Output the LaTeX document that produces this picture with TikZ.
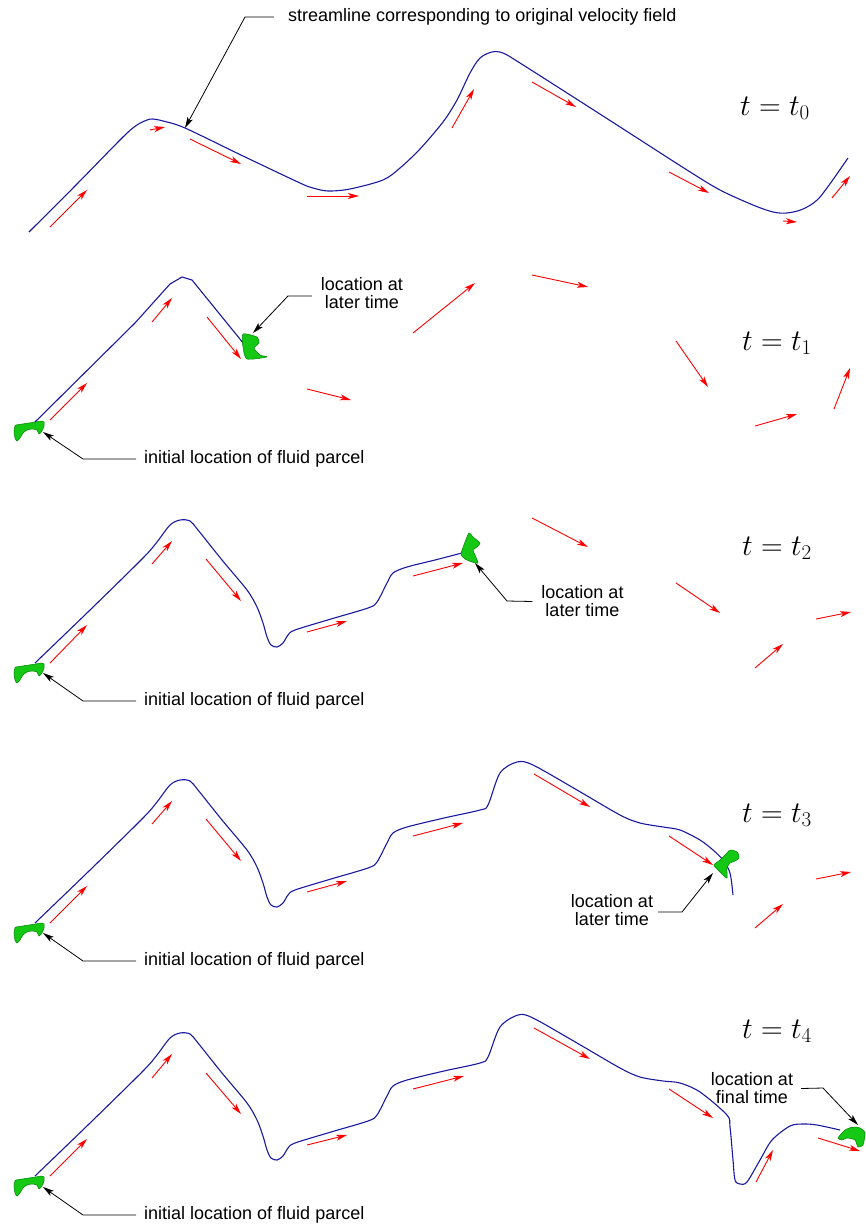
\RequirePackage{fix-cm}
\documentclass[tikz,border=0pt]{standalone}
\usepackage{fontspec}
\newfontfamily\lsans{Liberation Sans}
\usetikzlibrary{arrows.meta}
\definecolor{slblue}{RGB}{25,25,160}
\definecolor{pgreen}{RGB}{20,200,20}
\definecolor{pgreendark}{RGB}{0,130,0}
\tikzset{
  sl/.style={draw=slblue, line width=1.1pt, line join=round},
  vel/.style={draw=red, line width=0.9pt, -{Stealth[length=11pt,width=6pt,inset=3pt]}},
  lead/.style={draw=black, line width=0.8pt, -{Stealth[length=11pt,width=6pt,inset=2.5pt]}},
  parcel/.style={fill=pgreen, draw=pgreendark, line width=0.5pt},
  lbl/.style={font=\lsans\fontsize{18}{18}\selectfont, inner sep=0pt, align=center},
  tlbl/.style={font=\fontsize{30}{32}\selectfont, inner sep=0pt}
}
\begin{document}
\begin{tikzpicture}[x=1pt,y=-1pt]
\useasboundingbox (0,0) rectangle (865,1226);

% ---------------- t = t0 ----------------
\draw[sl] plot[smooth,tension=0.5] coordinates {(29,232) (76,185) (123,137) (137,125) (147,120) (153,119) (163,121) (185,128) (243,156) (300,183) (313,188) (328,191) (350,189) (383,180) (400,168) (420,149) (443,122) (457,100) (470,73) (480,58) (492,52) (503,53) (520,63) (603,116) (687,170) (720,190) (753,205) (773,212) (787,213) (803,209) (820,197) (848,158)};
\draw[vel] (50,227) -- (87,190);
\draw[vel] (150,130) -- (165,127);
\draw[vel] (190,139) -- (241,164);
\draw[vel] (307,196) -- (359,196);
\draw[vel] (452,128) -- (474,89);
\draw[vel] (532,82) -- (576,107);
\draw[vel] (669,172) -- (709,193);
\draw[vel] (783,221) -- (797,222);
\draw[vel] (832,198) -- (850,176);
\node[lbl, anchor=west] (sl0) at (288,17) {streamline corresponding to original velocity field};
\coordinate (sl0e) at (245,17);
\coordinate (sl0t) at (185,128);
\draw[lead] ([xshift=-14pt]sl0.west) -- (sl0e) -- (sl0t);
\node[tlbl, anchor=base west] (tt0) at (740,115) {$t = t_0$};

% ---------------- initial parcels ----------------
\foreach \dy in {-242,0,260,513} {
  \path[parcel, shift={(0,\dy)}] plot[smooth cycle,tension=0.4] coordinates {(16,667) (29,665) (42,663) (44,664) (44,668) (42,673) (39,676) (37,672) (32,671) (27,672) (23,675) (20,680) (17,683) (15,680) (14,673) (15,668)};
}

% ---------------- t = t1 ----------------
\draw[sl] (35,422) -- (135,323) -- (170,284) -- (182,277) -- (192,280) -- (248,349);
\path[parcel] plot[smooth cycle,tension=0.4] coordinates {(243,334) (257,337) (259,343) (254,348) (260,355) (267,357) (247,359) (243,347)};
\draw[vel] (50,420) -- (87,383);
\draw[vel] (152,322) -- (172,298);
\draw[vel] (207,317) -- (241,359);
\draw[vel] (307,389) -- (351,400);
\draw[vel] (413,333) -- (475,283);
\draw[vel] (532,275) -- (588,287);
\draw[vel] (676,341) -- (708,387);
\draw[vel] (755,426) -- (797,414);
\draw[vel] (834,409) -- (850,368);
\node[tlbl, anchor=base west] (tt1) at (742,350) {$t = t_1$};
\node[lbl] (lt1) at (362,293.5) {location at\\later time};
\coordinate (lt1e) at (288,296);
\coordinate (lt1t) at (253,333);
\draw[lead] ([xshift=-9pt,yshift=-2.5pt]lt1.west) -- (lt1e) -- (lt1t);
\node[lbl, anchor=west] (ini1) at (144,459) {initial location of fluid parcel};
\coordinate (ini1e) at (83,459);
\coordinate (ini1t) at (43,432);
\draw[lead] ([xshift=-8pt]ini1.west) -- (ini1e) -- (ini1t);

% ---------------- t = t2 ----------------
\draw[sl] plot[smooth,tension=0.5] coordinates {(35,663) (89,611) (143,558) (157,542) (170,525) (180,520) (190,521) (198,530) (222,560) (247,590) (257,607) (263,623) (267,637) (271,645) (277,647) (283,643) (288,635) (295,630) (331,619) (368,608) (377,602) (387,583) (393,573) (407,567) (435,560) (462,553)};
\path[parcel] plot[smooth cycle,tension=0.4] coordinates {(461,553) (465,542) (469,533) (473,537) (480,543) (477,547) (473,550) (475,555) (478,563) (472,562) (465,559) (461,555)};
\draw[vel] (50,663) -- (87,625);
\draw[vel] (152,564) -- (172,541);
\draw[vel] (206,559) -- (241,601);
\draw[vel] (307,632) -- (347,621);
\draw[vel] (413,576) -- (463,563);
\draw[vel] (532,518) -- (588,547);
\draw[vel] (676,583) -- (720,613);
\draw[vel] (755,668) -- (783,644);
\draw[vel] (816,619) -- (851,612);
\node[tlbl, anchor=base west] (tt2) at (742,555) {$t = t_2$};
\node[lbl] (lt2) at (582.5,601.5) {location at\\later time};
\coordinate (lt2e) at (507,601);
\coordinate (lt2t) at (475,563);
\draw[lead] ([xshift=-9pt]lt2.west) -- (lt2e) -- (lt2t);
\node[lbl, anchor=west] (ini2) at (144,701) {initial location of fluid parcel};
\coordinate (ini2e) at (83,701);
\coordinate (ini2t) at (43,673);
\draw[lead] ([xshift=-8pt]ini2.west) -- (ini2e) -- (ini2t);

% ---------------- t = t3 ----------------
\begin{scope}[shift={(0,260)}]
\draw[sl] plot[smooth,tension=0.5] coordinates {(35,663) (89,611) (143,558) (157,542) (170,525) (180,520) (190,521) (198,530) (222,560) (247,590) (257,607) (263,623) (267,637) (271,645) (277,647) (283,643) (288,635) (295,630) (331,619) (368,608) (377,602) (387,583) (393,573) (407,567) (444,558) (480,550) (488,545) (500,513) (517,502) (533,505) (577,530) (620,555) (640,563) (663,567) (680,570) (700,580) (713,590) (723,600) (730,613) (733,635)};
\end{scope}
\path[parcel] plot[smooth cycle,tension=0.4] coordinates {(714,865) (720,860) (725,855) (730,850) (735,851) (738,853) (739,858) (735,861) (730,863) (727,868) (727,878) (723,875) (718,870)};
\draw[vel] (50,923) -- (87,886);
\draw[vel] (152,824) -- (172,801);
\draw[vel] (206,819) -- (241,861);
\draw[vel] (307,892) -- (347,881);
\draw[vel] (413,836) -- (463,823);
\draw[vel] (534,774) -- (590,807);
\draw[vel] (669,836) -- (713,865);
\draw[vel] (755,928) -- (783,904);
\draw[vel] (816,879) -- (851,872);
\node[tlbl, anchor=base west] (tt3) at (742,822) {$t = t_3$};
\node[lbl] (lt3) at (612,910.5) {location at\\later time};
\coordinate (lt3e) at (682,912);
\coordinate (lt3t) at (713,873);
\draw[lead] ([xshift=5pt,yshift=-1.5pt]lt3.east) -- (lt3e) -- (lt3t);
\node[lbl, anchor=west] (ini3) at (144,961) {initial location of fluid parcel};
\coordinate (ini3e) at (83,961);
\coordinate (ini3t) at (43,933);
\draw[lead] ([xshift=-8pt]ini3.west) -- (ini3e) -- (ini3t);

% ---------------- t = t4 ----------------
\begin{scope}[shift={(0,513)}]
\draw[sl] plot[smooth,tension=0.5] coordinates {(35,663) (89,611) (143,558) (157,542) (170,525) (180,520) (190,521) (198,530) (222,560) (247,590) (257,607) (263,623) (267,637) (271,645) (277,647) (283,643) (288,635) (295,630) (331,619) (368,608) (377,602) (387,583) (393,573) (407,567) (444,558) (480,550) (488,544) (500,514) (518,502) (533,505) (577,530) (620,555) (640,564) (663,568) (680,570) (700,579) (727,602) (730,614) (733,647) (735,667) (740,671) (747,669) (760,647) (772,627) (790,613) (803,611) (817,612) (840,617)};
\end{scope}
\path[parcel] plot[smooth cycle,tension=0.4] coordinates {(838,1138) (845,1130) (853,1127) (860,1128) (865,1133) (863,1145) (858,1147) (855,1140) (847,1138) (842,1140)};
\draw[vel] (50,1176) -- (87,1139);
\draw[vel] (152,1078) -- (172,1054);
\draw[vel] (206,1073) -- (241,1114);
\draw[vel] (307,1145) -- (347,1135);
\draw[vel] (413,1089) -- (464,1076);
\draw[vel] (534,1028) -- (590,1059);
\draw[vel] (669,1089) -- (713,1118);
\draw[vel] (756,1182) -- (773,1150);
\draw[vel] (818,1138) -- (860,1151);
\node[tlbl, anchor=base west] (tt4) at (742,1038) {$t = t_4$};
\node[lbl] (lt4) at (752,1088.5) {location at\\final time};
\coordinate (lt4e) at (823,1088);
\coordinate (lt4t) at (858,1125);
\draw[lead] ([xshift=8pt]lt4.east) -- (lt4e) -- (lt4t);
\node[lbl, anchor=west] (ini4) at (144,1215) {initial location of fluid parcel};
\coordinate (ini4e) at (83,1215);
\coordinate (ini4t) at (43,1187);
\draw[lead] ([xshift=-8pt]ini4.west) -- (ini4e) -- (ini4t);
\end{tikzpicture}
\end{document}
